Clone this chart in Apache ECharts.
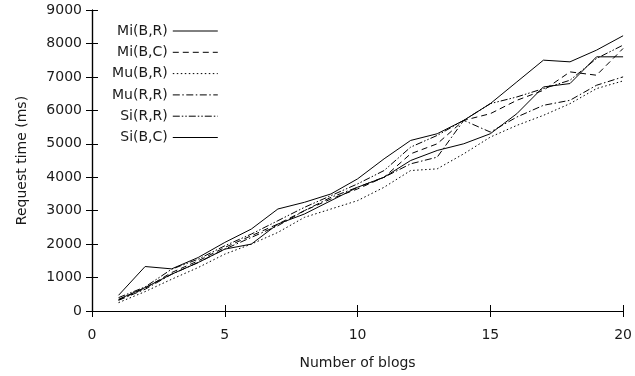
<!DOCTYPE html>
<html>
<head>
<meta charset="utf-8">
<script src="https://cdn.jsdelivr.net/npm/echarts@6/dist/echarts.min.js"></script>
<style>html,body{margin:0;padding:0;background:#fff}#c{width:635px;height:376px}</style>
</head>
<body>
<div id="c"></div>
<script>
var blogs = [1,2,3,4,5,6,7,8,9,10,11,12,13,14,15,16,17,18,19,20];
var seriesNames = ['Mi(B,R)','Mi(B,C)','Mu(B,R)','Mu(R,R)','Si(R,R)','Si(B,C)'];
var miBR = [470,1330,1260,1600,2050,2450,3050,3250,3500,3950,4550,5100,5300,5700,6200,6850,7500,7450,7800,8230];
var miBC = [330,680,1150,1500,1900,2250,2600,3000,3350,3650,4000,4700,5000,5700,5900,6300,6600,7150,7050,7850];
var muBR = [250,580,950,1300,1700,2000,2350,2800,3050,3300,3700,4200,4250,4700,5200,5550,5850,6200,6650,6880];
var muRR = [320,650,1100,1450,1850,2200,2550,3000,3400,3700,4000,4400,4600,5700,5350,5800,6150,6300,6750,7000];
var siRR = [400,720,1250,1550,1950,2300,2700,3100,3450,3800,4200,4900,5250,5700,6200,6400,6650,6900,7550,7950];
var siBC = [350,700,1100,1450,1850,2000,2600,2900,3300,3700,4000,4500,4800,5000,5300,5900,6700,6800,7600,7600];
var yTicks = {min:0, max:9000, interval:1000};
var xTicks = {min:0, max:20, interval:5};

var allData = [miBR, miBC, muBR, muRR, siRR, siBC];
var dashes = ['solid', [6,4], [1.5,2.5], [7,2.5,1.5,2.5], [7,2,1.5,2,1.5,2], 'solid'];
var font = 'DejaVu Sans';
var tc = '#1a1a1a';

var series = seriesNames.map(function(n, i){
  return {
    name: n, type: 'line', symbol: 'none', animation: false,
    data: blogs.map(function(b, j){ return [b, allData[i][j]]; }),
    lineStyle: {color: '#000', width: 1, type: dashes[i]},
    itemStyle: {color: '#000'}
  };
});

var chart = echarts.init(document.getElementById('c'), null, {renderer:'canvas'});
chart.setOption({
  backgroundColor: '#fff',
  animation: false,
  grid: {left: 92, right: 11, top: 10, bottom: 65, containLabel: false},
  legend: {
    orient: 'vertical', align: 'right', left: 107, top: 19,
    itemWidth: 45, itemHeight: 14, itemGap: 7.3,
    itemStyle: {opacity: 0},
    lineStyle: {width: 1},
    textStyle: {fontFamily: font, fontSize: 14, lineHeight: 14, color: tc},
    data: seriesNames
  },
  xAxis: [{
    type: 'value', min: xTicks.min, max: xTicks.max, interval: xTicks.interval,
    name: 'Number of blogs', nameLocation: 'middle', nameGap: 45,
    nameTextStyle: {fontFamily: font, fontSize: 14, color: tc},
    axisLine: {lineStyle: {color: '#000', width: 1.2}},
    axisTick: {inside: true, length: 6, lineStyle: {color: '#000'}},
    axisLabel: {margin: 17, fontFamily: font, fontSize: 14, color: tc},
    splitLine: {show: false}
  },{
    type: 'value', position: 'top', min: xTicks.min, max: xTicks.max, interval: xTicks.interval,
    axisLine: {lineStyle: {color: '#000', width: 1.2}},
    axisTick: {inside: true, length: 6, lineStyle: {color: '#000'}},
    axisLabel: {show: false}, splitLine: {show: false}
  }],
  yAxis: [{
    type: 'value', min: yTicks.min, max: yTicks.max, interval: yTicks.interval,
    name: 'Request time (ms)', nameLocation: 'middle', nameGap: 63,
    nameTextStyle: {fontFamily: font, fontSize: 14, color: tc},
    axisLine: {show: true, lineStyle: {color: '#000', width: 1.2}},
    axisTick: {show: true, inside: true, length: 6, lineStyle: {color: '#000'}},
    axisLabel: {margin: 10, fontFamily: font, fontSize: 14, color: tc, formatter: function(v){ return String(v); }},
    splitLine: {show: false}
  },{
    type: 'value', position: 'right', min: yTicks.min, max: yTicks.max, interval: yTicks.interval,
    axisLine: {show: true, lineStyle: {color: '#000', width: 1.2}},
    axisTick: {show: true, inside: true, length: 6, lineStyle: {color: '#000'}},
    axisLabel: {show: false}, splitLine: {show: false}
  }],
  series: series
});
</script>
</body>
</html>
